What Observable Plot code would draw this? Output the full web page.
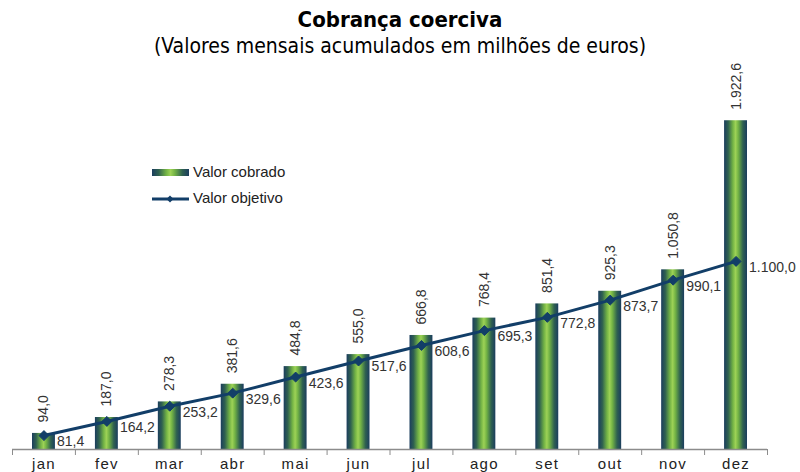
<!DOCTYPE html>
<html>
<head>
<meta charset="utf-8">
<script src="https://cdn.jsdelivr.net/npm/d3@7"></script>
<script src="https://cdn.jsdelivr.net/npm/@observablehq/plot@0.6"></script>
<style>
  html, body { margin: 0; padding: 0; background: #fff; }
  #wrap { width: 800px; height: 472px; overflow: hidden; }
  #head { height: 58px; text-align: center; font-family: "DejaVu Sans Condensed", "DejaVu Sans", sans-serif; font-stretch: condensed; color: #000; }
  #title { font-weight: bold; font-size: 22px; line-height: 24px; padding-top: 8px; }
  #subtitle { font-size: 21px; line-height: 24px; padding-top: 2px; }
  .month text { letter-spacing: 1.3px; }
</style>
</head>
<body>
<div id="wrap">
  <div id="head">
    <div id="title">Cobrança coerciva</div>
    <div id="subtitle">(Valores mensais acumulados em milhões de euros)</div>
  </div>
  <div id="chart"></div>
</div>
<script>
const months = ["jan", "fev", "mar", "abr", "mai", "jun", "jul", "ago", "set", "out", "nov", "dez"];
const cobrado = [94.0, 187.0, 278.3, 381.6, 484.8, 555.0, 666.8, 768.4, 851.4, 925.3, 1050.8, 1922.6];
const objetivo = [81.4, 164.2, 253.2, 329.6, 423.6, 517.6, 608.6, 695.3, 772.8, 873.7, 990.1, 1100.0];
const seriesNames = ["Valor cobrado", "Valor objetivo"];

const data = months.map((m, i) => ({ m, i, cobrado: cobrado[i], objetivo: objetivo[i] }));
const fmt = d3.formatLocale({ decimal: ",", thousands: ".", grouping: [3], currency: ["", "€"] }).format(",.1f");

const navy = "#123e68";
const numColor = "#333333";

function defs() {
  const ns = "http://www.w3.org/2000/svg";
  const d = document.createElementNS(ns, "defs");
  const g = document.createElementNS(ns, "linearGradient");
  g.setAttribute("id", "barGrad");
  g.setAttribute("x1", "0"); g.setAttribute("x2", "1"); g.setAttribute("y1", "0"); g.setAttribute("y2", "0");
  const stops = [[0, "#1b3d5e"], [0.18, "#2f6150"], [0.38, "#72b245"], [0.5, "#9dd256"], [0.62, "#72b245"], [0.82, "#2f6150"], [1, "#1b3d5e"]];
  for (const [o, c] of stops) {
    const s = document.createElementNS(ns, "stop");
    s.setAttribute("offset", o); s.setAttribute("stop-color", c);
    g.appendChild(s);
  }
  d.appendChild(g);
  return d;
}

function legend() {
  const g = d3.create("svg:g")
    .attr("font-family", "'Liberation Sans', Arial, sans-serif")
    .attr("font-size", 15)
    .attr("fill", "#222")
    .attr("text-anchor", "start");
  g.append("rect").attr("x", 152).attr("y", 111).attr("width", 37).attr("height", 7).attr("fill", "url(#barGrad)");
  g.append("text").attr("x", 193).attr("y", 114).attr("dy", "0.35em").attr("text-anchor", "start").text(seriesNames[0]);
  g.append("line").attr("x1", 152).attr("x2", 189).attr("y1", 141).attr("y2", 141).attr("stroke", navy).attr("stroke-width", 3);
  g.append("path").attr("d", "M170,137.5L173.5,141L170,144.5L166.5,141Z").attr("fill", navy);
  g.append("text").attr("x", 193).attr("y", 140).attr("dy", "0.35em").attr("text-anchor", "start").text(seriesNames[1]);
  return g.node();
}

const chart = Plot.plot({
  width: 800,
  height: 414,
  marginTop: 49,
  marginBottom: 23,
  marginLeft: 12,
  marginRight: 33,
  x: { domain: [0, 12], axis: null },
  y: { domain: [0, 2000], axis: null },
  style: { fontFamily: "'Liberation Sans', Arial, sans-serif", fontSize: "14px", background: "transparent", overflow: "visible" },
  marks: [
    defs,
    Plot.text(data, { x: d => d.i + 0.5, y: "objetivo", text: d => fmt(d.objetivo), textAnchor: "start", dx: 13, dy: 6, fontSize: 14, fill: numColor }),
    Plot.rect(data, { x1: d => d.i, x2: d => d.i + 1, y1: () => 0, y2: "cobrado", insetLeft: 20, insetRight: 20, fill: "url(#barGrad)" }),
    Plot.ruleY([0], { stroke: "#8c8c8c", strokeWidth: 1.5 }),
    Plot.axisX(d3.range(13), { tickSize: 6, tickFormat: () => "", stroke: "#8c8c8c" }),
    Plot.text(months, { x: (d, i) => i + 0.5, y: () => 0, text: d => d, dy: 9, lineAnchor: "top", fontSize: 15, fill: "#222", className: "month" }),
    Plot.line(data, { x: d => d.i + 0.5, y: "objetivo", stroke: navy, strokeWidth: 3 }),
    Plot.dot(data, { x: d => d.i + 0.5, y: "objetivo", symbol: "diamond2", r: 4.5, fill: navy, stroke: navy, strokeWidth: 1 }),
    Plot.text(data, { x: d => d.i + 0.5, y: "cobrado", text: d => fmt(d.cobrado), rotate: -90, textAnchor: "start", dy: -11, fontSize: 14, fill: numColor }),
    legend
  ]
});
document.getElementById("chart").appendChild(chart);
</script>
</body>
</html>
